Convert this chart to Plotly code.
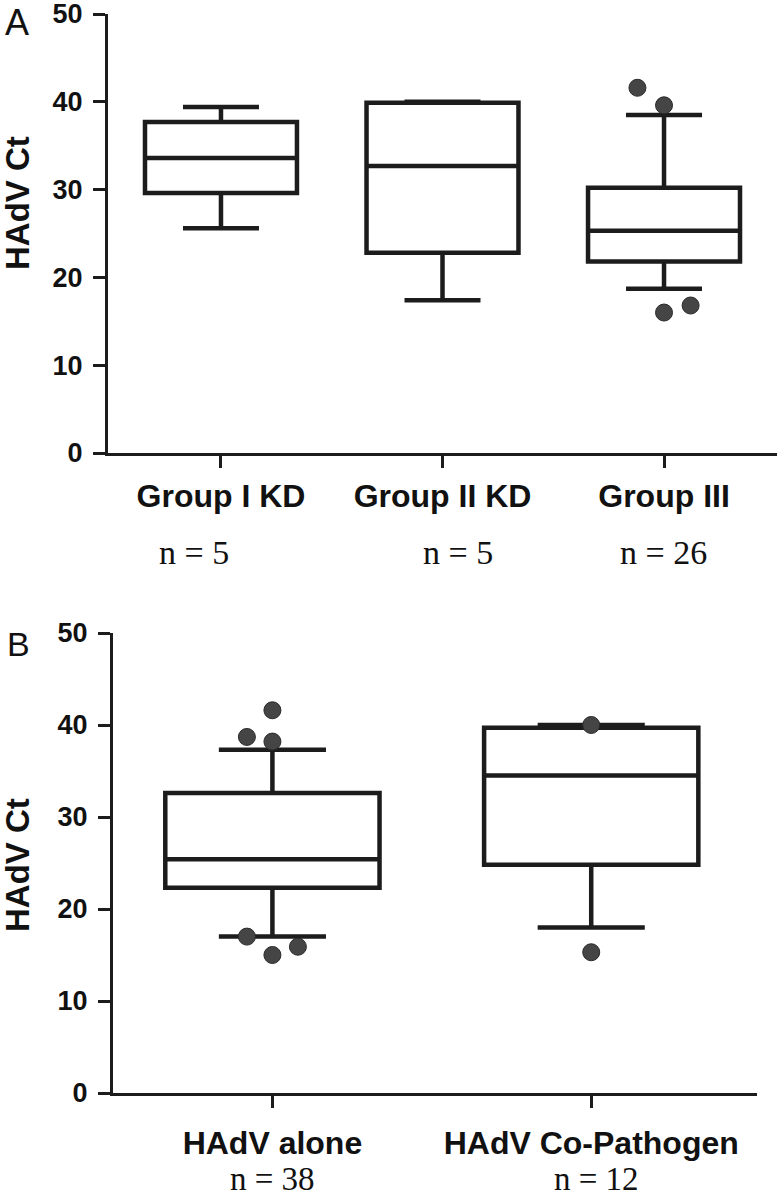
import plotly.graph_objects as go

# ---------------- data ----------------
cats_a = ["Group I KD", "Group II KD", "Group III"]
n_a = ["n = 5", "n = 5", "n = 26"]
q1_a = [29.6, 22.8, 21.8]
med_a = [33.6, 32.7, 25.3]
q3_a = [37.7, 39.9, 30.2]
lo_a = [25.6, 17.4, 18.7]
hi_a = [39.4, 40.0, 38.5]
out_a_cat = [2, 2, 2, 2]
out_a_val = [41.6, 39.6, 16.0, 16.8]
out_a_jit = [-0.12, 0.0, 0.0, 0.12]

cats_b = ["HAdV alone", "HAdV Co-Pathogen"]
n_b = ["n = 38", "n = 12"]
q1_b = [22.3, 24.8]
med_b = [25.4, 34.5]
q3_b = [32.6, 39.7]
lo_b = [17.0, 18.0]
hi_b = [37.3, 40.0]
out_b_cat = [0, 0, 0, 0, 0, 0, 1, 1]
out_b_val = [41.6, 38.7, 38.2, 17.0, 15.0, 15.9, 40.0, 15.3]
out_b_jit = [0.0, -0.08, 0.0, -0.08, 0.0, 0.08, 0.0, 0.0]

# ---------------- layout helpers ----------------
W, H = 777, 1199
def px(p):
    return p / W
def py(p):
    return 1 - p / H

INK = "#1c1c1c"
DOT = "#454545"
SANS = "Liberation Sans, Arial, sans-serif"
SERIF = "Liberation Serif, Times New Roman, serif"

fig = go.Figure()

fig.add_trace(go.Box(
    x=list(range(len(cats_a))), q1=q1_a, median=med_a, q3=q3_a,
    lowerfence=lo_a, upperfence=hi_a,
    width=0.686, whiskerwidth=0.5, boxpoints=False,
    fillcolor="white", line=dict(color=INK, width=4.5),
    xaxis="x", yaxis="y", showlegend=False, hoverinfo="skip"))
fig.add_trace(go.Scatter(
    x=[c + j for c, j in zip(out_a_cat, out_a_jit)], y=out_a_val, mode="markers",
    marker=dict(size=17, color=DOT, line=dict(color="#2a2a2a", width=1)),
    xaxis="x", yaxis="y", showlegend=False, hoverinfo="skip"))

fig.add_trace(go.Box(
    x=list(range(len(cats_b))), q1=q1_b, median=med_b, q3=q3_b,
    lowerfence=lo_b, upperfence=hi_b,
    width=0.672, whiskerwidth=0.5, boxpoints=False,
    fillcolor="white", line=dict(color=INK, width=4.5),
    xaxis="x2", yaxis="y2", showlegend=False, hoverinfo="skip"))
fig.add_trace(go.Scatter(
    x=[c + j for c, j in zip(out_b_cat, out_b_jit)], y=out_b_val, mode="markers",
    marker=dict(size=17, color=DOT, line=dict(color="#2a2a2a", width=1)),
    xaxis="x2", yaxis="y2", showlegend=False, hoverinfo="skip"))

xcommon = dict(showline=True, linecolor=INK, linewidth=3, ticks="outside",
               ticklen=12, tickwidth=3, tickcolor=INK, showgrid=False,
               zeroline=False, automargin=False, ticklabeloverflow="allow",
               tickfont=dict(family=SANS, size=32, color="#111", weight="bold"))
ycommon = dict(showline=True, linecolor=INK, linewidth=3, ticks="outside",
               ticklen=12, tickwidth=3, tickcolor=INK, showgrid=False,
               zeroline=False, range=[0, 50], tickvals=[0, 10, 20, 30, 40, 50],
               ticklabelstandoff=5, automargin=False, ticklabeloverflow="allow",
               tickfont=dict(family=SANS, size=27, color="#111", weight="bold"))

fig.update_layout(
    width=W, height=H, margin=dict(l=0, r=0, t=0, b=0, autoexpand=False),
    paper_bgcolor="white", plot_bgcolor="white",
    xaxis=dict(domain=[px(108), 1.0], range=[-0.51, 2.51],
               tickvals=list(range(len(cats_a))), ticktext=cats_a,
               anchor="y", ticklabelstandoff=1, **xcommon),
    yaxis=dict(domain=[py(453), py(14)], anchor="x", **ycommon),
    xaxis2=dict(domain=[px(113), px(757)], range=[-0.50, 1.52],
                tickvals=list(range(len(cats_b))), ticktext=cats_b,
                anchor="y2", ticklabelstandoff=8, **xcommon),
    yaxis2=dict(domain=[py(1093), py(633)], anchor="x2", **ycommon),
)

def label(text, xc, yc, font, **kw):
    d = dict(text=text, x=px(xc), y=py(yc), xref="paper", yref="paper",
             xanchor="center", yanchor="middle", showarrow=False, font=font)
    d.update(kw)
    return d

ann = []
ann.append(label("A", 17, 23, dict(family=SANS, size=36, color="#111")))
ann.append(label("B", 18, 644, dict(family=SANS, size=34, color="#111")))
for yc in (203, 865):
    ann.append(label("HAdV Ct", 17, yc,
                     dict(family=SANS, size=33, color="#111", weight="bold"),
                     textangle=-90))
for t, xc in zip(n_a, (194, 458, 663)):
    ann.append(label(t, xc, 552, dict(family=SERIF, size=34, color="#111")))
for t, xc in zip(n_b, (272, 596)):
    ann.append(label(t, xc, 1179, dict(family=SERIF, size=33, color="#111")))
fig.update_layout(annotations=ann)

fig.write_html("out.html", config={"displayModeBar": False},
               post_script="document.body.style.margin='0';document.body.style.overflow='hidden';")
